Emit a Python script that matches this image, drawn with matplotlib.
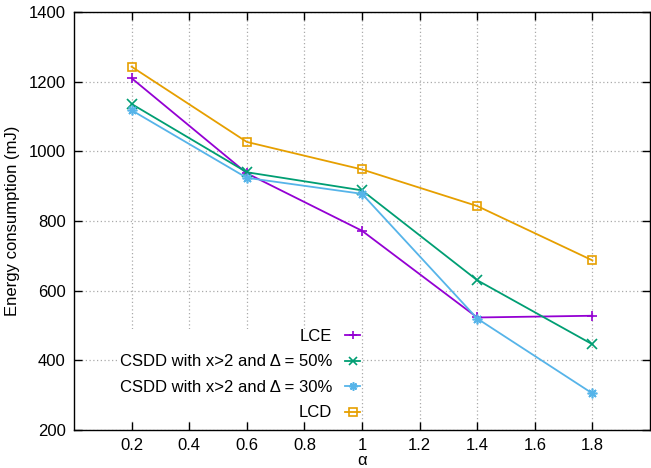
import matplotlib
matplotlib.use("Agg")
import matplotlib.pyplot as plt

plt.rcParams["font.family"] = ["Liberation Sans", "DejaVu Sans"]
plt.rcParams["font.size"] = 12

# data
alpha = [0.2, 0.6, 1.0, 1.4, 1.8]
lce = [1210, 937, 772, 523, 528]
csdd50 = [1136, 940, 888, 630, 446]
csdd30 = [1118, 924, 878, 520, 305]
lcd = [1243, 1027, 948, 843, 687]

labels = ["LCE", "CSDD with x>2 and \u0394 = 50%", "CSDD with x>2 and \u0394 = 30%", "LCD"]
colors = ["#9400d3", "#009e73", "#56b4e9", "#e69f00"]
markers = ["+", "x", (8, 2, 0), "s"]
xticks = [0.2, 0.4, 0.6, 0.8, 1, 1.2, 1.4, 1.6, 1.8]
yticks = [200, 400, 600, 800, 1000, 1200, 1400]

fig = plt.figure(figsize=(6.51, 4.68), dpi=100)
ax = fig.add_axes([74 / 651, 1 - 430 / 468, 576 / 651, 418 / 468])

for ys, lab, c, m in zip([lce, csdd50, csdd30, lcd], labels, colors, markers):
    mfc = "none" if m == "s" else c
    ms = 6 if m == "s" else 7
    ax.plot(alpha, ys, color=c, lw=1.3, marker=m, ms=ms, mfc=mfc, mec=c, mew=1.2, label=lab)

ax.set_xlim(0, 2)
ax.set_ylim(200, 1400)
ax.set_xticks(xticks)
ax.set_xticklabels(["0.2", "0.4", "0.6", "0.8", "1", "1.2", "1.4", "1.6", "1.8"])
ax.set_yticks(yticks)
ax.tick_params(direction="in", length=6, width=1, top=True, right=True, labelsize=12, pad=6)
ax.grid(True, linestyle=(0, (1, 2)), color="#aaaaaa", lw=0.9)
ax.set_axisbelow(True)
for s in ax.spines.values():
    s.set_linewidth(1.0)

ax.set_xlabel("\u03b1", fontsize=12, labelpad=0)
ax.set_ylabel("Energy consumption (mJ)", fontsize=12, labelpad=6)

leg = ax.legend(loc="lower left", bbox_to_anchor=(37 / 576, 0.002, 270 / 576, 0.26),
                markerfirst=False, frameon=True, fancybox=False, framealpha=1,
                edgecolor="none", facecolor="white", handlelength=0.9, markerscale=0.85,
                labelspacing=0.63, borderpad=0.02, fontsize=12, alignment="right")
for t in leg.get_texts():
    t.set_ha("right")
leg.set_zorder(2.4)

fig.savefig("out.png", dpi=100)
